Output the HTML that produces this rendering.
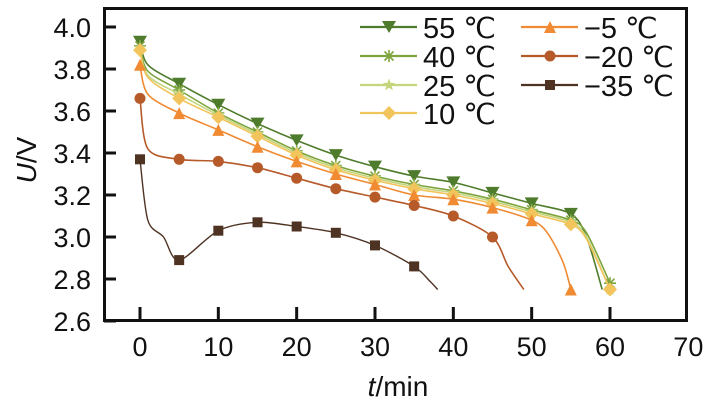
<!DOCTYPE html>
<html><head><meta charset="utf-8"><style>
body{margin:0;background:#fff;}
svg{display:block;font-family:"Liberation Sans",Arial,sans-serif;}
</style></head><body>
<svg id="c" width="725" height="404" viewBox="0 0 725 404"></svg>
<script>
const seriesNames=["55 ℃","40 ℃","25 ℃","10 ℃","−5 ℃","−20 ℃","−35 ℃"];
const t55=[0,1,5,10,15,20,25,30,35,40,45,50,55,57,59];
const v55=[3.93,3.82,3.73,3.63,3.54,3.46,3.39,3.335,3.29,3.26,3.21,3.16,3.11,3.0,2.75];
const t40=[0,1,5,10,15,20,25,30,35,40,45,50,55,57,60];
const v40=[3.91,3.79,3.70,3.59,3.50,3.41,3.34,3.29,3.25,3.22,3.18,3.13,3.08,3.02,2.78];
const t25=[0,1,5,10,15,20,25,30,35,40,45,50,55,57,60];
const v25=[3.90,3.77,3.68,3.58,3.49,3.40,3.33,3.28,3.24,3.21,3.17,3.12,3.07,3.0,2.75];
const t10=[0,1,5,10,15,20,25,30,35,40,45,50,55,57,60];
const v10=[3.89,3.76,3.66,3.57,3.48,3.39,3.32,3.27,3.23,3.20,3.16,3.11,3.06,2.99,2.75];
const tm5=[0,1,5,10,15,20,25,30,35,40,45,50,52,54,55];
const vm5=[3.82,3.68,3.59,3.51,3.43,3.36,3.30,3.25,3.20,3.18,3.14,3.08,3.02,2.88,2.75];
const tm20=[0,1,5,10,15,20,25,30,35,40,45,47,49];
const vm20=[3.66,3.42,3.37,3.36,3.33,3.28,3.23,3.19,3.15,3.10,3.00,2.86,2.75];
const tm35=[0,1,3,5,10,15,20,25,30,35,37,38];
const vm35=[3.37,3.08,3.00,2.89,3.03,3.07,3.05,3.02,2.96,2.86,2.79,2.75];
const xTicks=[0,10,20,30,40,50,60,70];
const yTicks=[2.6,2.8,3.0,3.2,3.4,3.6,3.8,4.0];

const series=[
 {t:t55,v:v55,c:"#4f7c2c",m:"tri-down",w:1.6,lastMarker:false},
 {t:t40,v:v40,c:"#7ea43e",m:"star",w:1.6,lastMarker:true},
 {t:t25,v:v25,c:"#c4d67c",m:"star5",w:1.6,lastMarker:true},
 {t:t10,v:v10,c:"#f2c45c",m:"diamond",w:1.6,lastMarker:true},
 {t:tm5,v:vm5,c:"#f08a33",m:"tri-up",w:1.6,lastMarker:true},
 {t:tm20,v:vm20,c:"#b65a2a",m:"circle",w:1.6,lastMarker:false},
 {t:tm35,v:vm35,c:"#4e3323",m:"square",w:1.4,lastMarker:false}
];
const X=t=>140+(t)*(610-140)/60;
const Y=v=>27+(4.0-v)*(294/1.4);
const svg=document.getElementById('c');
const NS="http://www.w3.org/2000/svg";
function mk(tag,attrs,parent){const e=document.createElementNS(NS,tag);for(const k in attrs)e.setAttribute(k,attrs[k]);(parent||svg).appendChild(e);return e;}

const frame=mk('rect',{x:104.5,y:8.5,width:582,height:312,fill:"none",stroke:"#111","stroke-width":3});



yTicks.forEach(v=>{
  const tk=mk('line',{x1:104,x2:116,y1:Y(v),y2:Y(v),stroke:"#111","stroke-width":3});
  
  
  const tx=mk('text',{x:91,y:Y(v)+10,"text-anchor":"end","font-size":27,fill:"#111"});
  tx.textContent=v.toFixed(1);
  
  
});
xTicks.forEach(t=>{
  if(t<70){const tk=mk('line',{x1:X(t),x2:X(t),y1:320,y2:307,stroke:"#111","stroke-width":3});
  
  }
  const tx=mk('text',{x:X(t),y:356,"text-anchor":"middle","font-size":27,fill:"#111"});
  tx.textContent=t;
  
  
});
const xt=mk('text',{x:398,y:396,"text-anchor":"middle","font-size":28,fill:"#111"});
xt.innerHTML='<tspan font-style="italic">t</tspan>/min';


const yt=mk('text',{x:0,y:0,"text-anchor":"middle","font-size":28,fill:"#111",transform:"translate(36,160) rotate(-90)"});
yt.innerHTML='<tspan font-style="italic">U</tspan>/V';



function marker(type,x,y,c,parent){
  let e;
  if(type==="tri-down") e=mk('polygon',{points:`${x-7},${y-6} ${x+7},${y-6} ${x},${y+6}`,fill:c},parent);
  else if(type==="tri-up") e=mk('polygon',{points:`${x-6},${y+6} ${x+6},${y+6} ${x},${y-6}`,fill:c},parent);
  else if(type==="circle") e=mk('circle',{cx:x,cy:y,r:5.5,fill:c},parent);
  else if(type==="square") e=mk('rect',{x:x-5,y:y-5,width:10,height:10,fill:c},parent);
  else if(type==="diamond") e=mk('polygon',{points:`${x},${y-7} ${x+7},${y} ${x},${y+7} ${x-7},${y}`,fill:c},parent);
  else if(type==="star"){e=mk('path',{d:`M${x-6},${y}H${x+6}M${x},${y-6}V${y+6}M${x-4.5},${y-4.5}L${x+4.5},${y+4.5}M${x-4.5},${y+4.5}L${x+4.5},${y-4.5}`,stroke:c,"stroke-width":1.6,fill:"none"},parent);}
  else if(type==="star5"){let p=[];for(let i=0;i<10;i++){const r=i%2?2.8:6.5,a=-Math.PI/2+i*Math.PI/5;p.push((x+r*Math.cos(a)).toFixed(1)+","+(y+r*Math.sin(a)).toFixed(1));}e=mk('polygon',{points:p.join(' '),fill:c},parent);}
  
  
  return e;
}
function smooth(pts){
  let d=`M${pts[0][0]},${pts[0][1]}`;
  for(let i=0;i<pts.length-1;i++){
    const p0=pts[i-1]||pts[i],p1=pts[i],p2=pts[i+1],p3=pts[i+2]||p2;
    const k=0.15;
    d+=` C${p1[0]+(p2[0]-p0[0])*k},${p1[1]+(p2[1]-p0[1])*k} ${p2[0]-(p3[0]-p1[0])*k},${p2[1]-(p3[1]-p1[1])*k} ${p2[0]},${p2[1]}`;
  }
  return d;
}
series.forEach((s,si)=>{
  const g=mk('g',{});
  
  
  const pts=s.t.map((t,i)=>[X(t),Y(s.v[i])]);
  const p=mk('path',{d:smooth(pts),fill:"none",stroke:s.c,"stroke-width":s.w},g);
  
  
  s.t.forEach((t,i)=>{
    const last=i===s.t.length-1;
    if((t%5===0&&!last)||(last&&s.lastMarker)) marker(s.m,X(t),Y(s.v[i]),s.c,g);
  });
});
const leg=mk('g',{});


const legPos=[[360,27],[360,56],[360,85],[360,113],[521,27],[521,56],[521,85]];
series.forEach((s,i)=>{
  const [lx,ly]=legPos[i];
  const ge=mk('g',{},leg);
  
  
  mk('line',{x1:lx,x2:lx+57,y1:ly,y2:ly,stroke:s.c,"stroke-width":2.2},ge);
  marker(s.m,lx+29,ly,s.c,ge);
  const tx=mk('text',{x:lx+63,y:ly+11,"font-size":29,fill:"#111"},ge);
  tx.textContent=seriesNames[i];
  
  
});
</script>
</body></html>
